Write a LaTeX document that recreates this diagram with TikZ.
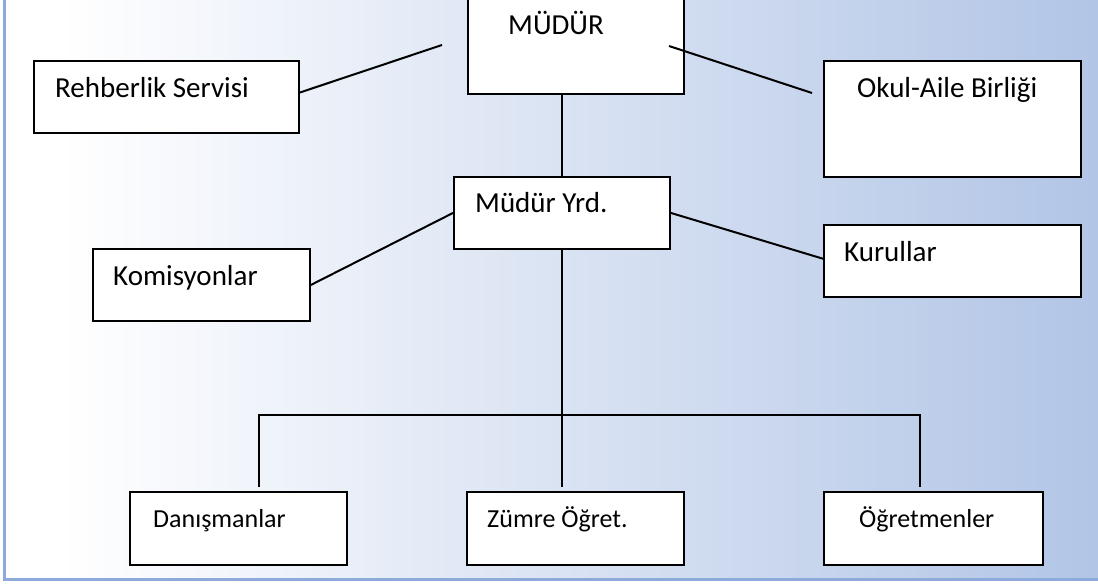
\documentclass[tikz,border=0pt]{standalone}
\usepackage{fontspec}
\setmainfont{Carlito}
\usetikzlibrary{calc}
\definecolor{bgblue}{HTML}{B2C5E6}
\definecolor{framecol}{HTML}{8EAADB}
\tikzset{
  orgbox/.style={draw=black, fill=white, line width=1.9pt, rectangle, inner sep=0pt, anchor=north west},
  boxtext/.style={anchor=base west, inner sep=0pt, font=\fontsize{29}{34}\selectfont},
  smalltext/.style={anchor=base west, inner sep=0pt, font=\fontsize{26}{31}\selectfont},
  link/.style={draw=black, line width=2pt}
}
\begin{document}
\begin{tikzpicture}[x=1pt, y=-1pt]
\useasboundingbox (0,0) rectangle (1098,585);
\clip (0,0) rectangle (1098,585);
% background
\fill[white] (0,0) rectangle (1098,585);
\shade[left color=white, right color=bgblue] (60,0) rectangle (1098,578);
\draw[framecol, line width=3pt] (4.5,0) -- (4.5,579) -- (1098,579);

% boxes
\node[orgbox, minimum width=265pt, minimum height=72pt] (rehb) at (33,60) {};
\node[orgbox, minimum width=216pt, minimum height=103pt] (mudur) at (467,-10) {};
\node[orgbox, minimum width=257pt, minimum height=116pt] (okul) at (823,60) {};
\node[orgbox, minimum width=216pt, minimum height=72pt] (yrd) at (453,176) {};
\node[orgbox, minimum width=217pt, minimum height=72pt] (kom) at (92,248) {};
\node[orgbox, minimum width=257pt, minimum height=72pt] (kur) at (823,224) {};
\node[orgbox, minimum width=217pt, minimum height=73pt] (dan) at (129,491) {};
\node[orgbox, minimum width=217pt, minimum height=73pt] (zum) at (466,491) {};
\node[orgbox, minimum width=219pt, minimum height=73pt] (ogr) at (823,491) {};

% texts
\node[boxtext] (trehb) at (55,98) {Rehberlik Servisi};
\node[boxtext] (tmudur) at (508,35) {MÜDÜR};
\node[boxtext] (tokul) at (857,98) {Okul-Aile Birliği};
\node[boxtext] (tyrd) at (475,213) {Müdür Yrd.};
\node[boxtext] (tkom) at (113,286) {Komisyonlar};
\node[boxtext] (tkur) at (844,262) {Kurullar};
\node[smalltext] (tdan) at (153,527) {Danışmanlar};
\node[smalltext] (tzum) at (487,527) {Zümre Öğret.};
\node[smalltext] (togr) at (859,527) {Öğretmenler};

% free ends
\coordinate (la) at (442,45);
\coordinate (ra) at (669,46);
\coordinate (rb) at (812,93);
\coordinate (bus) at (561,415);
\coordinate (busl) at (259,415);
\coordinate (busr) at (920,415);
\coordinate (dropl) at (259,487);
\coordinate (dropm) at (561,487);
\coordinate (dropr) at (920,487);

% connectors
\draw[link] ($(rehb.north east)!0.44!(rehb.south east)$) -- (la);
\draw[link] (ra) -- (rb);
\draw[link] (yrd.north) -- (yrd.north |- mudur.south);
\draw[link] (yrd.west) -- (kom.east);
\draw[link] (yrd.east) -- ($(kur.north west)!0.47!(kur.south west)$);
\draw[link] (yrd.south) -- (yrd.south |- dropm);
\draw[link] (dropl) -- (busl) -- (busr) -- (dropr);
\end{tikzpicture}
\end{document}
